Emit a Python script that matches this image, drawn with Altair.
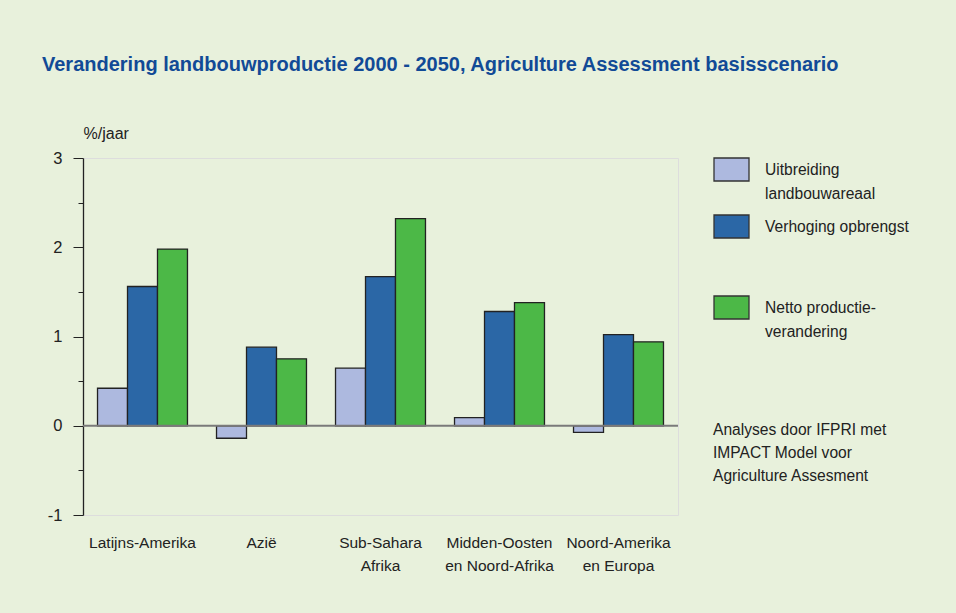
import altair as alt
import pandas as pd

regions = ["Latijns-Amerika", "Azië", "Sub-Sahara|Afrika",
           "Midden-Oosten|en Noord-Afrika", "Noord-Amerika|en Europa"]
series = ["Uitbreiding landbouwareaal", "Verhoging opbrengst",
          "Netto productie-verandering"]
uitbreiding = [0.42, -0.14, 0.645, 0.09, -0.075]
verhoging = [1.56, 0.88, 1.67, 1.28, 1.02]
netto = [1.98, 0.75, 2.32, 1.38, 0.94]
colors = ["#ADB9DF", "#2B67A6", "#4CB847"]
y_ticks = [-1, -0.5, 0, 0.5, 1, 1.5, 2, 2.5, 3]
title_text = "Verandering landbouwproductie 2000 - 2050, Agriculture Assessment basisscenario"
note_text = "Analyses door IFPRI met|IMPACT Model voor|Agriculture Assesment"

rows = []
for i, r in enumerate(regions):
    for s, vals in zip(series, [uitbreiding, verhoging, netto]):
        rows.append({"regio": r, "reeks": s, "waarde": vals[i]})
df = pd.DataFrame(rows)

FONT = "Liberation Sans, Arial"

legend_label = ("datum.label == 'Uitbreiding landbouwareaal' ? ['Uitbreiding', 'landbouwareaal'] : "
                "datum.label == 'Verhoging opbrengst' ? ['Verhoging opbrengst', '', ''] : "
                "['Netto productie-', 'verandering']")

bars = alt.Chart(df).mark_bar(stroke="#222222", strokeWidth=1.3).encode(
    x=alt.X("regio:N", sort=regions,
            scale=alt.Scale(paddingInner=0.244, paddingOuter=0.122),
            axis=alt.Axis(title=None, domain=False, ticks=False, labelAngle=0,
                          labelExpr="split(datum.label, '|')", labelPadding=20,
                          labelFontSize=15.5, labelLineHeight=23, labelColor="#222222",
                          labelFont=FONT)),
    xOffset=alt.XOffset("reeks:N", sort=series),
    y=alt.Y("waarde:Q", scale=alt.Scale(domain=[-1, 3], nice=False, zero=False),
            axis=alt.Axis(values=y_ticks, grid=False,
                          labelExpr="datum.value % 1 === 0 ? '' + datum.value : ''",
                          tickSize={"condition": {"test": "datum.value % 1 === 0", "value": 10}, "value": 5},
                          tickColor="#222222", domainColor="#222222", domainWidth=1.3,
                          labelPadding=11, labelFontSize=16.5, labelColor="#222222", labelFont=FONT,
                          title="%/jaar", titleAngle=0, titleX=0, titleY=-20, titleAlign="left",
                          titleBaseline="alphabetic", titleFontWeight="normal", titleFontSize=16,
                          titleColor="#222222", titleFont=FONT)),
    color=alt.Color("reeks:N", sort=series,
                    scale=alt.Scale(domain=series, range=colors),
                    legend=alt.Legend(title=None, orient="none", legendX=630, legendY=-7,
                                      symbolType="M-1,-0.657H1V0.657H-1Z", symbolSize=1225,
                                      symbolStrokeColor="#333333", symbolStrokeWidth=1.3,
                                      symbolOpacity=1,
                                      labelExpr=legend_label, labelFontSize=15.6,
                                      labelLimit=300, labelOffset=15, rowPadding=5, padding=0,
                                      labelColor="#222222", labelFont=FONT)),
)

zero = alt.Chart(pd.DataFrame({"y": [0]})).mark_rule(color="#7a7a7a", strokeWidth=1.8).encode(
    y=alt.Y("y:Q")
)

note = alt.Chart(pd.DataFrame({"t": [note_text]})).mark_text(
    align="left", baseline="alphabetic", lineBreak="|", lineHeight=23,
    fontSize=15.6, font=FONT, color="#222222"
).encode(x=alt.value(630), y=alt.value(277), text="t:N")

chart = alt.layer(bars, zero, note).properties(
    width=595, height=357,
    title=alt.TitleParams(title_text, anchor="start", frame="group", dx=-41, dy=-46,
                          fontSize=20, font=FONT, fontWeight="bold", color="#114A96"),
    background="#E8F1DC",
    autosize=alt.AutoSizeParams(type="none"),
    padding={"left": 83, "top": 158, "right": 278, "bottom": 98},
).configure_view(fill="white", stroke=None).configure(
    style={"guide-label": {"lineHeight": 24}}
)

chart.save("out.html", embed_options={"renderer": "svg", "actions": False})
